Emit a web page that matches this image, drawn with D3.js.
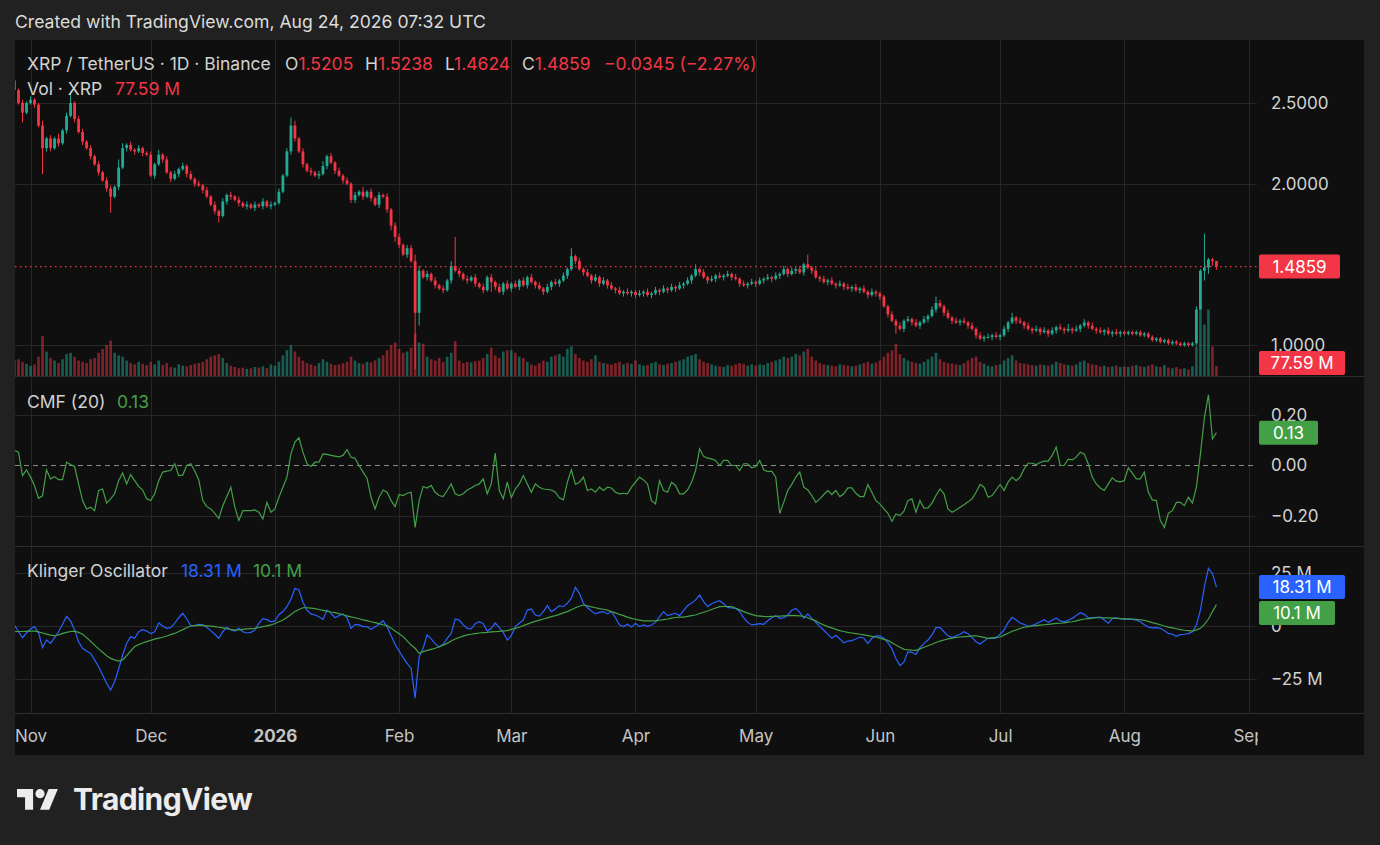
<!DOCTYPE html>
<html><head><meta charset="utf-8">
<script src="https://cdn.jsdelivr.net/npm/d3@7/dist/d3.min.js"></script>
<style>
html,body{margin:0;padding:0;background:#222;}
svg{display:block;font-family:Inter,"Noto Sans",sans-serif;}
</style></head><body>
<svg id="c" width="1380" height="845"></svg>
<script>
// ---------------- DATA ----------------
const firstOpen = 2.64;           // open of first visible candle (Oct 28, 2025)
const closes = [
 2.58,2.50,2.44,2.50,
 2.52,2.49,2.36,2.22,2.28, 2.22,2.28,2.25,2.33,2.42, 2.50,2.40,2.32,2.26,2.22, 2.17,2.12,2.07,2.02,1.97, 1.92,1.98,2.10,2.22,2.24, 2.21,2.20,2.22,2.19,2.18,
 2.05,2.12,2.18,2.15,2.07, 2.03,2.06,2.09,2.11,2.06, 2.03,2.00,1.99,1.96,1.92, 1.87,1.83,1.80,1.89,1.93, 1.92,1.90,1.88,1.86,1.87, 1.85,1.87,1.86,1.89,1.86, 1.87,
 1.88,1.95,2.05,2.20,2.36, 2.28,2.20,2.12,2.08,2.07, 2.05,2.06,2.11,2.17,2.13, 2.08,2.05,2.02,2.00,1.90, 1.93,1.95,1.92,1.95,1.91, 1.87,1.93,1.92,1.84,1.74, 1.67,
 1.62,1.56,1.60,1.52,1.20, 1.46,1.42,1.44,1.40,1.37, 1.35,1.34,1.40,1.49,1.46, 1.44,1.41,1.40,1.42,1.38, 1.36,1.34,1.42,1.39,1.36, 1.33,1.38,1.35,
 1.38,1.36,1.40,1.37,1.42, 1.39,1.37,1.35,1.33,1.36, 1.39,1.38,1.40,1.43,1.47, 1.55,1.52,1.47,1.45,1.43, 1.40,1.42,1.38,1.40,1.37, 1.35,1.34,1.32,1.33,1.32, 1.33,
 1.31,1.32,1.33,1.31,1.32, 1.34,1.33,1.35,1.34,1.36, 1.35,1.37,1.38,1.40,1.43, 1.47,1.45,1.42,1.40,1.41, 1.43,1.42,1.43,1.44,1.42, 1.41,1.38,1.37,1.38,1.39,
 1.38,1.40,1.41,1.42,1.41, 1.43,1.44,1.47,1.44,1.46, 1.47,1.45,1.50,1.48,1.46, 1.42,1.41,1.39,1.40,1.38, 1.37,1.38,1.36,1.35,1.36, 1.34,1.35,1.33,1.31,1.33, 1.32,
 1.30,1.24,1.19,1.15,1.12, 1.10,1.15,1.16,1.14,1.12, 1.14,1.16,1.18,1.22,1.26, 1.24,1.20,1.17,1.15,1.14, 1.15,1.14,1.12,1.10,1.06, 1.04,1.05,1.05,1.06,1.05,
 1.06,1.10,1.14,1.17,1.15, 1.14,1.12,1.10,1.09,1.10, 1.08,1.09,1.07,1.09,1.11, 1.10,1.09,1.10,1.09,1.10, 1.12,1.14,1.12,1.10,1.09, 1.08,1.09,1.07,1.08,1.07, 1.08,
 1.07,1.08,1.07,1.08,1.06, 1.07,1.05,1.03,1.04,1.02, 1.03,1.01,1.02,1.01,1.00, 1.01,1.00,1.01,1.22,1.46, 1.48,1.53,1.5205,1.4859
];
// upper / lower wick lengths in hundredths (base-36 digits), one per candle
const wickUp = "3121"+"21131 21312 71221 21212 21531 21211"+"21312 12121 21212 12121 21212 12121 2"+"12125 31212 12312 12121 21312 12121 2"+
 "21224 31212 1213i 21212 12121 212"+"12121 21212 12121 51212 12121 21212 1"+"12121 21212 12121 31212 12121 21212"+"12121 21212 12161 21212 12121 21212 1"+
 "11121 21212 12124 21212 12121 21212"+"12131 21212 12121 21312 12121 21212 1"+"11111 11111 11111 11121 l110";
const wickDn = "2161"+"121g2 21212 12121 21212 a1212 12121"+"12121 21212 12121 12412 21212 12121 2"+"11112 21212 12121 21212 21212 12123 3"+
 "2121z 81212 12121 21212 12162 121"+"21212 12121 21212 12121 21212 12121 2"+"21212 12121 21212 12121 21212 12121"+"21212 12121 21212 12121 21212 12121 2"+
 "21215 12121 21212 12121 21212 12121"+"21212 12121 21212 12121 21212 12121 2"+"11111 11111 11111 11110 6432";
const volumes = [ // millions of XRP
 120,130,110,95,
 80,90,150,310,190, 140,120,100,130,170, 180,150,120,110,100, 130,140,180,210,240, 275,180,160,150,120, 100,90,110,95,85,
 110,90,120,85,100, 70,65,90,80,75, 85,95,100,110,130, 150,160,170,140,100, 80,70,60,65,55, 60,70,65,75,60, 90,
 80,110,160,200,240, 190,150,120,100,90, 80,100,130,110,95, 85,90,100,110,150, 120,100,95,110,105, 120,140,160,200,240, 260,
 210,180,190,220,330, 260,250,150,130,120, 140,110,150,180,270, 120,100,110,105,115, 120,140,170,220,160, 140,190,200,
 200,180,150,140,110, 90,80,100,120,110, 150,160,170,150,210, 230,170,140,120,110, 130,160,110,100,95, 90,100,110,90,100, 95,
 120,90,80,85,100, 110,90,85,95,100, 110,120,130,150,160, 170,130,110,100,90, 80,75,70,85,80, 90,100,95,80,90,
 80,90,85,100,110, 120,130,150,140,150, 170,160,190,210,150, 120,100,90,85,80, 75,90,85,80,75, 80,90,100,110,95, 105,
 120,150,180,200,250, 170,140,120,110,100, 95,110,130,150,180, 130,110,100,95,90, 85,100,120,140,150, 110,95,80,75,85,
 90,120,140,160,120, 100,95,90,85,80, 90,85,80,90,110, 100,90,85,80,90, 110,120,100,90,85, 75,80,70,75,80, 70,
 75,70,80,85,75, 70,80,90,75,70, 85,65,60,70,55, 60,50,75,230,515, 400,515,230,77.59
];
const cmf = [
 0.06,0.053,-0.04,-0.017,-0.046,-0.08,-0.13,-0.12,-0.017,-0.053,
 -0.044,-0.056,-0.056,0.013,0.004,-0.004,-0.073,-0.139,-0.172,-0.165,
 -0.179,-0.099,-0.093,-0.149,-0.132,-0.112,-0.06,-0.03,-0.073,-0.036,
 -0.06,-0.083,-0.097,-0.132,-0.139,-0.112,-0.06,-0.026,-0.022,-0.02,
 0.007,-0.04,-0.038,0,0.007,-0.022,-0.057,-0.139,-0.163,-0.172,
 -0.19,-0.21,-0.159,-0.123,-0.086,-0.165,-0.218,-0.179,-0.179,-0.179,
 -0.176,-0.185,-0.212,-0.146,-0.185,-0.172,-0.126,-0.086,-0.046,0.046,
 0.093,0.11,0.053,0.007,-0.004,0.013,0.013,0.046,0.044,0.04,
 0.037,0.034,0.04,0.063,0.033,0.029,0,-0.026,-0.05,-0.126,
 -0.172,-0.126,-0.097,-0.106,-0.139,-0.163,-0.115,-0.119,-0.11,-0.106,
 -0.245,-0.139,-0.083,-0.089,-0.079,-0.106,-0.119,-0.123,-0.099,-0.073,
 -0.112,-0.119,-0.112,-0.097,-0.089,-0.079,-0.073,-0.053,-0.112,-0.073,
 0.049,-0.099,-0.132,-0.066,-0.128,-0.093,-0.073,-0.04,-0.073,-0.106,
 -0.073,-0.086,-0.093,-0.095,-0.097,-0.106,-0.128,-0.136,-0.066,-0.017,
 -0.075,-0.066,-0.046,-0.099,-0.093,-0.106,-0.086,-0.099,-0.086,-0.089,
 -0.106,-0.112,-0.11,-0.112,-0.086,-0.066,-0.046,-0.057,-0.073,-0.139,
 -0.152,-0.06,-0.099,-0.106,-0.066,-0.079,-0.112,-0.112,-0.097,-0.066,
 -0.02,0.066,0.036,0.029,0.026,0.02,0,0.02,0.02,0,
 0,-0.02,0.007,0.007,-0.009,-0.004,0.02,-0.017,-0.024,-0.022,
 -0.046,-0.19,-0.146,-0.099,-0.075,-0.046,-0.026,-0.086,-0.097,-0.119,
 -0.146,-0.132,-0.115,-0.099,-0.115,-0.099,-0.123,-0.112,-0.089,-0.089,
 -0.11,-0.123,-0.123,-0.075,-0.106,-0.139,-0.152,-0.172,-0.189,-0.221,
 -0.192,-0.198,-0.181,-0.139,-0.132,-0.185,-0.139,-0.169,-0.168,-0.149,
 -0.119,-0.093,-0.112,-0.172,-0.185,-0.176,-0.165,-0.155,-0.144,-0.132,
 -0.106,-0.075,-0.086,-0.126,-0.119,-0.097,-0.075,-0.099,-0.066,-0.046,
 -0.06,-0.046,-0.013,0.009,0.009,0.004,0.012,0.017,0.017,0.04,
 0.073,0,0,0.025,0.022,0.033,0.053,0.046,0.007,-0.046,
 -0.073,-0.089,-0.099,-0.073,-0.049,-0.062,-0.065,-0.06,-0.009,-0.03,
 -0.053,-0.053,-0.026,-0.106,-0.136,-0.139,-0.218,-0.245,-0.189,-0.179,
 -0.146,-0.146,-0.159,-0.126,-0.149,-0.086,0.046,0.19,0.28,0.106,0.13
];
const kvo = [ // millions
 0.5,-2.7,-5.5,-3.3,-1.4,-0.3,-3.1,-10.2,-6.6,-8.2,
 -5.5,-2.7,0.8,4.6,2.4,-1.9,-7.4,-10.5,-11.8,-12.9,
 -16.0,-19.2,-23.1,-27.0,-30.2,-26.3,-20.3,-13.7,-8.2,-5.0,
 -5.8,-2.7,-1.7,-2.4,-3.6,-2.7,1.4,0,-1.1,-0.8,
 1.3,3.9,6.0,3.3,0.2,0.2,0.8,0.5,-0.6,-2.2,
 -3.9,-5.8,-2.7,-0.6,-1.9,-2.4,-1.1,-2.7,-3.3,-3.0,
 -1.9,1.3,3.5,3.0,2.0,2.4,5.3,6.8,9.1,12.6,
 17.8,17.0,11.2,7.5,5.7,5.2,4.4,3.1,7.5,6.0,
 3.9,4.9,5.7,3.9,-1.1,0.8,0.5,-0.3,-0.3,-1.6,
 -0.3,0.8,2.5,-0.3,-4.6,-8.6,-11.8,-14.9,-17.6,-20.0,
 -34.0,-14.5,-10.5,-4.2,-6.1,-8.3,-9.9,-8.6,-5.8,-3.5,
 3.3,2.8,0.5,-1.1,-1.4,1.1,2.0,1.1,-2.4,-1.1,
 1.4,-0.8,-3.0,-6.6,-4.6,-0.3,1.3,2.8,7.5,8.0,
 5.2,4.7,6.8,9.6,6.8,8.0,9.6,9.1,10.7,13.1,
 18.2,15.4,10.7,8.6,7.1,5.7,6.4,6.8,5.7,6.8,
 3.9,0.5,-0.3,0.8,-0.5,1.3,-0.3,0.5,-0.2,0.5,
 1.7,4.4,6.8,4.9,5.5,6.0,4.9,7.2,9.6,10.8,
 12.3,14.6,11.5,9.1,10.5,11.3,11.9,10.5,8.8,8.5,
 8.3,6.8,3.9,1.7,0.5,0.8,1.1,0.8,2.5,3.9,
 4.9,3.6,3.9,5.2,7.4,8.3,6.4,3.6,5.7,3.6,
 1.7,-0.3,-2.0,-3.8,-5.8,-4.4,-6.1,-7.9,-7.1,-6.9,
 -6.1,-5.2,-5.8,-8.3,-5.8,-4.7,-4.6,-5.8,-7.9,-10.8,
 -15.3,-18.7,-17.1,-12.1,-12.4,-13.4,-10.2,-8.2,-6.6,-4.2,
 -0.8,-0.8,-2.7,-4.6,-5.5,-4.6,-3.9,-2.7,-3.6,-5.5,
 -7.4,-8.5,-7.1,-5.8,-5.8,-5.7,-3.9,-1.9,1.6,4.1,
 2.8,1.4,0.8,-0.2,0.2,1.1,2.0,3.0,1.7,2.7,
 3.8,2.4,2.0,2.7,3.6,5.0,6.3,5.5,3.9,3.9,
 4.1,4.2,2.8,1.3,3.5,3.8,3.5,3.1,3.1,3.1,
 2.7,2.0,0.6,-0.5,-0.9,-0.8,-1.1,-2.2,-3.5,-3.9,
 -4.9,-4.1,-3.9,-3.6,-2.7,0.5,7.5,18.6,27.2,24.8,18.31
];
const kvoSignal = [ // millions
 -2.7,-2.6,-2.6,-2.5,-2.4,-2.4,-2.8,-3.3,-3.8,-4.3,
 -4.6,-4.2,-3.5,-3.0,-2.6,-2.4,-3.0,-3.9,-5.5,-7.2,
 -9.0,-10.8,-12.4,-14.0,-15.3,-16.0,-16.6,-16.0,-14.0,-11.8,
 -9.7,-8.8,-8.0,-7.4,-6.8,-6.2,-5.7,-5.3,-4.7,-4.1,
 -3.5,-2.6,-1.7,-0.8,0,0.2,0.3,0.3,0.1,-0.1,
 -0.3,-0.6,-0.9,-1.2,-1.6,-1.9,-1.8,-1.6,-1.4,-1.2,
 -1.1,-0.7,-0.3,0.1,0.5,1.2,2.0,2.8,4.0,5.4,
 6.8,7.8,8.6,8.6,8.4,8.2,7.8,7.4,7.0,6.6,
 6.3,5.8,5.3,4.8,4.3,3.9,3.4,2.9,2.5,2.0,
 1.6,1.1,0.6,0.2,-1.0,-2.4,-3.7,-5.0,-7.0,-9.0,
 -10.5,-12.9,-12.1,-11.5,-11.0,-10.5,-9.8,-9.0,-8.2,-7.1,
 -6.1,-5.4,-4.8,-4.2,-3.9,-3.6,-3.3,-3.1,-3.0,-2.8,
 -2.7,-2.5,-2.3,-2.2,-1.6,-1.1,-0.6,0.2,0.9,1.6,
 2.2,2.8,3.3,3.8,4.4,4.9,5.5,6.2,6.8,7.7,
 8.6,9.3,9.9,9.5,9.0,8.6,8.2,7.9,7.5,6.8,
 6.2,5.5,4.9,4.2,3.6,3.2,2.8,2.4,2.4,2.4,
 2.4,2.7,3.0,3.3,3.7,4.0,4.2,4.2,4.5,4.9,
 5.2,5.9,6.5,7.1,7.8,8.5,9.1,9.2,9.2,9.1,
 8.4,7.6,6.8,6.1,5.5,4.9,4.7,4.5,4.4,4.5,
 4.6,4.7,4.8,4.9,5.0,4.9,4.8,4.6,3.9,3.1,
 2.4,1.3,0.5,-0.3,-0.9,-1.6,-2.2,-2.6,-3.0,-3.3,
 -3.6,-3.9,-4.2,-4.5,-4.9,-5.2,-5.7,-6.3,-6.8,-7.9,
 -9.0,-10.0,-11.0,-11.2,-11.4,-11.5,-10.8,-10.0,-9.3,-8.6,
 -7.8,-7.1,-6.6,-6.1,-5.7,-5.4,-5.2,-5.0,-4.9,-4.7,
 -4.6,-5.0,-5.4,-5.8,-5.6,-5.4,-5.2,-4.3,-3.4,-2.5,
 -1.9,-1.2,-0.6,-0.3,0,0.2,0.4,0.6,0.8,1.0,
 1.2,1.3,1.5,1.8,2.0,2.4,2.9,3.3,3.5,3.7,
 3.9,3.9,3.8,3.8,3.7,3.6,3.5,3.4,3.4,3.3,
 3.1,2.9,2.7,2.2,1.6,1.1,0.6,0,-0.5,-0.9,
 -1.3,-1.7,-2.0,-2.2,-2.4,-1.8,-1.1,0.8,3.3,6.8,10.1
];
const monthLabels = ["Nov","Dec","2026","Feb","Mar","Apr","May","Jun","Jul","Aug","Sep"];
const priceTicks = [1.0, 2.0, 2.5];
const cmfTicks = [-0.2, 0, 0.2];
const kvoTicks = [-25, 0, 25];
const last = {o:"1.5205", h:"1.5238", l:"1.4624", c:"1.4859", chg:"−0.0345 (−2.27%)", vol:"77.59 M", cmf:"0.13", kvo:"18.31 M", sig:"10.1 M"};

// ---------------- BUILD ----------------
const parseW = s => s.replace(/\s/g,'').split('').map(ch => parseInt(ch,36)/100);
const up = parseW(wickUp), dn = parseW(wickDn);
const t0 = Date.UTC(2025,9,28);
const data = closes.map((c,i)=>{
  const o = i ? closes[i-1] : firstOpen;
  return {date:new Date(t0 + i*86400000), o, c, h:Math.max(o,c)+(up[i]||0), l:Math.min(o,c)-(dn[i]||0),
          v:volumes[i], cmf:cmf[i], kvo:kvo[i], sig:kvoSignal[i]};
});

const UP="#22ab94", DOWN="#f23645", GRID="#272727", TXT="#d2d2d2", GREEN="#43a047", BLUE="#2962ff";
const FONT='Inter,"Noto Sans",sans-serif';
const L=15, R=1257, PR=1364;
const svg = d3.select('#c');
svg.append('rect').attr('width',1380).attr('height',845).attr('fill','#212121');
svg.append('rect').attr('x',L).attr('y',40).attr('width',PR-L).attr('height',715).attr('fill','#0f0f0f');

const x = d3.scaleUtc().domain([Date.UTC(2025,10,1), Date.UTC(2026,8,1)]).range([30.5,1248.5]);
const yP = d3.scaleLinear().domain([1,2.5]).range([345,103]);
const yV = d3.scaleLinear().domain([0,700]).range([376,285.8]);
const yC = d3.scaleLinear().domain([-0.2,0.2]).range([516,415]);
const yK = d3.scaleLinear().domain([-25,25]).range([679,573]);

const defs = svg.append('defs');
[['c1',40,336],['c2',377,169],['c3',547,166],['cx',714,41]].forEach(([id,y,h])=>{
  defs.append('clipPath').attr('id',id).append('rect').attr('x',L).attr('y',y).attr('width',R-L+1).attr('height',h);
});

// vertical gridlines
const months = d3.utcMonth.range(Date.UTC(2025,10,1), Date.UTC(2026,8,2));
svg.append('g').selectAll('line').data(months).join('line')
  .attr('x1',d=>Math.round(x(d))+0.5).attr('x2',d=>Math.round(x(d))+0.5).attr('y1',40).attr('y2',713)
  .attr('stroke',GRID);
// horizontal gridlines
const hg = svg.append('g').attr('stroke',GRID);
priceTicks.forEach(t=>hg.append('line').attr('x1',L).attr('x2',R).attr('y1',Math.round(yP(t))+0.5).attr('y2',Math.round(yP(t))+0.5));
[-0.2,0.2].forEach(t=>hg.append('line').attr('x1',L).attr('x2',R).attr('y1',Math.round(yC(t))+0.5).attr('y2',Math.round(yC(t))+0.5));
kvoTicks.forEach(t=>hg.append('line').attr('x1',L).attr('x2',R).attr('y1',Math.round(yK(t))+0.5).attr('y2',Math.round(yK(t))+0.5));
// pane separators
[376.5,546.5,713.5].forEach(yy=>svg.append('line').attr('x1',L).attr('x2',PR).attr('y1',yy).attr('y2',yy).attr('stroke','#2e2e2e'));

// volume bars
const g1 = svg.append('g').attr('clip-path','url(#c1)');
g1.selectAll('rect.v').data(data).join('rect').attr('class','v')
  .attr('x',d=>x(d.date)-1.3).attr('width',2.6)
  .attr('y',d=>yV(d.v)).attr('height',d=>yV(0)-yV(d.v))
  .attr('fill',d=>d.c>=d.o?UP:DOWN).attr('fill-opacity',0.5);
// candles
g1.selectAll('line.w').data(data).join('line').attr('class','w')
  .attr('x1',d=>x(d.date)).attr('x2',d=>x(d.date)).attr('y1',d=>yP(d.h)).attr('y2',d=>yP(d.l))
  .attr('stroke',d=>d.c>=d.o?UP:DOWN).attr('stroke-width',1);
g1.selectAll('rect.b').data(data).join('rect').attr('class','b')
  .attr('x',d=>x(d.date)-1.4).attr('width',2.8)
  .attr('y',d=>yP(Math.max(d.o,d.c))).attr('height',d=>Math.max(1,Math.abs(yP(d.o)-yP(d.c))))
  .attr('fill',d=>d.c>=d.o?UP:DOWN);
// price line
const lastC = closes[closes.length-1];
svg.append('line').attr('x1',L).attr('x2',R).attr('y1',yP(lastC)).attr('y2',yP(lastC))
  .attr('stroke',DOWN).attr('stroke-dasharray','1.5,3.5').attr('stroke-width',1.2);

// CMF
const g2 = svg.append('g').attr('clip-path','url(#c2)');
g2.append('line').attr('x1',L).attr('x2',R).attr('y1',yC(0)).attr('y2',yC(0))
  .attr('stroke','#8a8a8a').attr('stroke-dasharray','5,4');
g2.append('path').datum(data).attr('fill','none').attr('stroke',GREEN).attr('stroke-width',1.2)
  .attr('d',d3.line().x(d=>x(d.date)).y(d=>yC(d.cmf)));

// Klinger
const g3 = svg.append('g').attr('clip-path','url(#c3)');
g3.append('path').datum(data).attr('fill','none').attr('stroke',BLUE).attr('stroke-width',1.2)
  .attr('d',d3.line().x(d=>x(d.date)).y(d=>yK(d.kvo)));
g3.append('path').datum(data).attr('fill','none').attr('stroke',GREEN).attr('stroke-width',1.2)
  .attr('d',d3.line().x(d=>x(d.date)).y(d=>yK(d.sig)));

// right axes
function rAxis(scale, ticks, fmt){
  const g = svg.append('g').attr('transform',`translate(${R},0)`)
    .call(d3.axisRight(scale).tickValues(ticks).tickSize(0).tickPadding(14).tickFormat(fmt));
  g.select('.domain').remove();
  g.selectAll('text').attr('fill',TXT).attr('font-size','17px').attr('font-family',FONT);
  return g;
}
rAxis(yP, priceTicks, d=>d3.format('.4f')(d));
rAxis(yC, cmfTicks, d=>d3.format('.2f')(d).replace('-','−'));
rAxis(yK, kvoTicks, d=>d===0?'0':(d<0?'−':'')+Math.abs(d)+' M');

// value badges
function badge(yc, w, fill, txt){
  const g = svg.append('g');
  g.append('rect').attr('x',1259).attr('y',yc-12).attr('width',w).attr('height',24).attr('rx',2).attr('fill',fill);
  g.append('text').attr('x',1259+w/2).attr('y',yc).attr('dy','0.36em').attr('text-anchor','middle')
    .attr('fill','#fff').attr('font-size','17px').text(txt);
}
badge(yP(lastC), 81, DOWN, last.c);
badge(363, 86, DOWN, last.vol);
badge(yC(cmf[cmf.length-1]), 59, GREEN, last.cmf);
badge(587, 86, BLUE, last.kvo);
badge(613, 76, GREEN, last.sig);

// x axis (clip on outer, untransformed group)
const gxo = svg.append('g').attr('clip-path','url(#cx)');
const gx = gxo.append('g').attr('transform','translate(0,713)');
gx.call(d3.axisBottom(x).tickValues(months).tickSize(0).tickPadding(17).tickFormat((d,i)=>monthLabels[i]));
gx.select('.domain').remove();
gx.selectAll('text').attr('fill','#c4c4c4').attr('font-size','17px').attr('font-family',FONT)
  .attr('font-weight',(d,i)=>monthLabels[i]==='2026'?700:400);

// titles
svg.append('text').attr('x',15).attr('y',28).attr('fill','#dcdcdc').attr('font-size','17.6px')
  .text('Created with TradingView.com, Aug 24, 2026 07:32 UTC');
const HS='17.5px';
const h1 = svg.append('text').attr('y',70).attr('font-size',HS).attr('fill',TXT);
h1.append('tspan').attr('x',27).text('XRP / TetherUS · 1D · Binance');
[['O',last.o,285],['H',last.h,365],['L',last.l,445],['C',last.c,522]].forEach(([k,v,xx])=>{
  h1.append('tspan').attr('x',xx).attr('fill',TXT).text(k);
  h1.append('tspan').attr('fill',DOWN).text(v);
});
h1.append('tspan').attr('x',604).attr('fill',DOWN).text(last.chg);
const h2 = svg.append('text').attr('y',95).attr('font-size',HS).attr('fill',TXT);
h2.append('tspan').attr('x',27).text('Vol · XRP');
h2.append('tspan').attr('x',115).attr('fill',DOWN).text(last.vol);
const h3 = svg.append('text').attr('y',408).attr('font-size',HS).attr('fill',TXT);
h3.append('tspan').attr('x',27).text('CMF (20)');
h3.append('tspan').attr('x',117).attr('fill',GREEN).text(last.cmf);
const h4 = svg.append('text').attr('y',577).attr('font-size',HS).attr('fill',TXT);
h4.append('tspan').attr('x',27).text('Klinger Oscillator');
h4.append('tspan').attr('x',181).attr('fill',BLUE).text(last.kvo);
h4.append('tspan').attr('x',253).attr('fill',GREEN).text(last.sig);

// TradingView logo
const lg = svg.append('g').attr('transform','translate(17,784.5) scale(1.15)').attr('fill','#ececec');
lg.append('path').attr('d','M14 22H7V11H0V4h14v18zM28 22h-8l7.5-18h8L28 22z');
lg.append('circle').attr('cx',20).attr('cy',8).attr('r',4);
svg.append('text').attr('x',73).attr('y',810).attr('fill','#ececec').attr('font-size','30px')
  .attr('font-weight',700).attr('letter-spacing','-0.6px').text('TradingView');
</script>
</body></html>
